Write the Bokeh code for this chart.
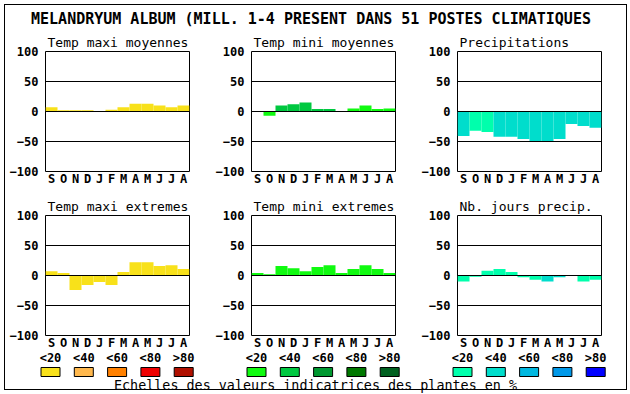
from bokeh.plotting import figure
from bokeh.models import Range1d, FixedTicker, ColumnDataSource, InlineStyleSheet
from bokeh.layouts import row, column
from bokeh.embed import file_html
from bokeh.resources import INLINE
from bokeh.core.properties import value

# ---------------- data ----------------
main_title = "MELANDRYUM ALBUM (MILL. 1-4 PRESENT DANS  51 POSTES CLIMATIQUES"
footer_text = "Echelles des valeurs indicatrices des plantes en %"
months = ["S", "O", "N", "D", "J", "F", "M", "A", "M", "J", "J", "A"]
y_ticks = [-100, -50, 0, 50, 100]
grid_ticks = [-50, 0, 50]
class_labels = ["<20", "<40", "<60", "<80", ">80"]

temp_max_colors = ["#f8e11a", "#ffb84d", "#ff8000", "#ee0000", "#b01000"]
temp_min_colors = ["#10fa10", "#00c840", "#009830", "#007800", "#006020"]
precip_colors = ["#00ffac", "#00ddcc", "#00b8e0", "#0098e8", "#0000ff"]

t_max_moy = [7, 2, 2, 2, 0, 3, 7, 13, 13, 10, 7, 10]
t_max_moy_cls = [0, 0, 0, 0, 0, 0, 0, 0, 0, 0, 0, 0]
t_min_moy = [0, -7, 10, 12, 15, 4, 4, 0, 5, 10, 4, 5]
t_min_moy_cls = [0, 0, 1, 1, 1, 1, 1, 0, 0, 0, 0, 0]
precip = [-41, -32, -34, -42, -42, -46, -51, -51, -46, -21, -24, -27]
precip_cls = [1, 0, 0, 1, 1, 1, 1, 1, 1, 1, 1, 1]
t_max_ext = [7, 4, -24, -16, -11, -16, 6, 22, 22, 16, 17, 11]
t_max_ext_cls = [0, 0, 0, 0, 0, 0, 0, 0, 0, 0, 0, 0]
t_min_ext = [4, 2, 16, 12, 7, 14, 17, 4, 11, 17, 11, 4]
t_min_ext_cls = [0, 0, 0, 0, 0, 0, 0, 0, 0, 0, 0, 0]
nb_jours = [-10, -2, 8, 11, 6, -3, -7, -10, -3, 0, -10, -7]
nb_jours_cls = [0, 0, 0, 0, 0, 0, 0, 1, 1, 0, 0, 0]

FONT = "DejaVu Sans Mono"
W = 628


def panel(name, vals, cls, palette, left, right, top, bottom):
    p = figure(frame_width=144, frame_height=120,
               x_range=Range1d(-0.5, 11.5), y_range=Range1d(-100, 100),
               output_backend="svg", toolbar_location=None, title=name,
               min_border_left=left, min_border_right=right,
               min_border_top=top, min_border_bottom=bottom)
    p.title.align = "left"
    p.title.offset = 2
    p.title.standoff = 4
    p.title.text_font = FONT
    p.title.text_font_size = "13px"
    p.title.text_font_style = "normal"
    p.title.text_color = "black"
    p.outline_line_color = "black"
    p.outline_line_alpha = 1
    p.outline_line_width = 1
    p.background_fill_color = "white"
    p.border_fill_color = "white"
    src = ColumnDataSource(dict(x=list(range(12)), top=vals,
                                color=[palette[c] for c in cls]))
    p.vbar(x="x", top="top", bottom=0, width=1, fill_color="color",
           line_color=None, source=src)
    p.yaxis.ticker = FixedTicker(ticks=y_ticks)
    p.xaxis.ticker = FixedTicker(ticks=list(range(12)))
    p.xaxis.major_label_overrides = {i: m for i, m in enumerate(months)}
    for ax in (p.xaxis, p.yaxis):
        ax.axis_line_color = None
        ax.major_tick_out = 0
        ax.major_tick_in = 0
        ax.minor_tick_out = 0
        ax.minor_tick_in = 0
        ax.major_label_text_font = FONT
        ax.major_label_text_font_style = "bold"
        ax.major_label_text_font_size = "12px"
        ax.major_label_text_color = "black"
        ax.major_label_text_line_height = 1.0
        ax.axis_label_standoff = 0
    p.yaxis.major_label_standoff = 7
    p.xaxis.major_label_standoff = 0
    p.xgrid.visible = False
    p.ygrid.ticker = FixedTicker(ticks=grid_ticks)
    p.ygrid.grid_line_color = "black"
    p.ygrid.grid_line_alpha = 1
    p.ygrid.grid_line_width = 1
    p.ygrid.level = "overlay"
    return p


panel_lefts = [45, 251, 457]

top_fig = figure(width=W, height=30, x_range=Range1d(0, W), y_range=Range1d(30, 0),
                 output_backend="svg", toolbar_location=None, min_border=0)
top_fig.axis.visible = False
top_fig.grid.visible = False
top_fig.outline_line_color = None
top_fig.text(x=[315], y=[18], text=[main_title], text_align="center", text_baseline="middle",
             text_font=value(FONT), text_font_style="bold", text_font_size="15px",
             text_color="black")

r1 = row(
    panel("Temp maxi moyennes", t_max_moy, t_max_moy_cls, temp_max_colors, 45, 17, 20, 20),
    panel("Temp mini moyennes", t_min_moy, t_min_moy_cls, temp_min_colors, 45, 17, 20, 20),
    panel("Precipitations", precip, precip_cls, precip_colors, 45, 27, 20, 20),
)
r2 = row(
    panel("Temp maxi extremes", t_max_ext, t_max_ext_cls, temp_max_colors, 45, 17, 24, 15),
    panel("Temp mini extremes", t_min_ext, t_min_ext_cls, temp_min_colors, 45, 17, 24, 15),
    panel("Nb. jours precip.", nb_jours, nb_jours_cls, precip_colors, 45, 27, 24, 15),
)

LEG_H = 42
leg = figure(width=W, height=LEG_H, x_range=Range1d(0, W), y_range=Range1d(LEG_H, 0),
             output_backend="svg", toolbar_location=None, min_border=0)
leg.axis.visible = False
leg.grid.visible = False
leg.outline_line_color = None
sw_x, sw_col, sw_lab = [], [], []
for left, pal in zip(panel_lefts, [temp_max_colors, temp_min_colors, precip_colors]):
    for i in range(5):
        sw_x.append(left + 5 + 33.3 * i)
        sw_col.append(pal[i])
        sw_lab.append(class_labels[i])
leg.rect(x=sw_x, y=19.5, width=19, height=9, fill_color=sw_col, line_color="black", line_width=1)
leg.text(x=sw_x, y=5.5, text=sw_lab, text_align="center", text_baseline="middle",
         text_font=value(FONT), text_font_style="bold", text_font_size="12px", text_color="black")
leg.text(x=[315], y=[33], text=[footer_text], text_align="center", text_baseline="middle",
         text_font=value(FONT), text_font_size="13.4px", text_color="black")

frame_css = InlineStyleSheet(css="""
:host { position: relative; }
:host::after { content: ''; position: absolute; left: 4px; top: 4px;
  width: 621px; height: 384px; border: 1px solid black;
  pointer-events: none; z-index: 1000; }
""")

layout = column(top_fig, r1, r2, leg, stylesheets=[frame_css])

open("out.html", "w").write(file_html(layout, INLINE))
